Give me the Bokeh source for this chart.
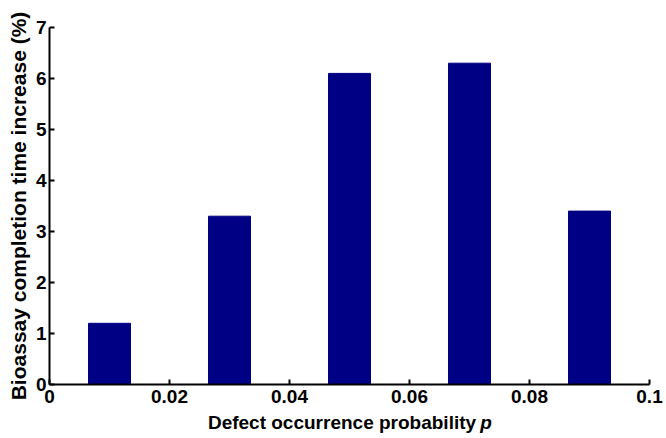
from bokeh.plotting import figure
from bokeh.layouts import column
from bokeh.models import Range1d, FixedTicker
from bokeh.core.properties import value
from bokeh.embed import file_html
from bokeh.resources import INLINE

p_values = [0.01, 0.03, 0.05, 0.07, 0.09]
increase = [1.2, 3.3, 6.1, 6.3, 3.4]
x_ticks = [0, 0.02, 0.04, 0.06, 0.08, 0.1]
x_tick_labels = ["0", "0.02", "0.04", "0.06", "0.08", "0.1"]
y_ticks = [0, 1, 2, 3, 4, 5, 6, 7]
x_title = "Defect occurrence probability"
x_title_var = "p"
y_title = "Bioassay completion time increase (%)"

FONT = "Liberation Sans"
xr = Range1d(0, 0.1)

p = figure(width=666, height=413, output_backend="svg", toolbar_location=None,
           x_range=xr, y_range=Range1d(0, 7),
           min_border_left=49, min_border_right=17, min_border_top=27, min_border_bottom=29)

p.vbar(x=p_values, top=increase, width=0.007, bottom=0, fill_color="#000085", line_color="#000085")

p.xgrid.visible = False
p.ygrid.visible = False
p.outline_line_color = None

for ax in (p.xaxis[0], p.yaxis[0]):
    ax.axis_line_width = 2
    ax.axis_line_color = "black"
    ax.major_tick_in = 5
    ax.major_tick_out = 0
    ax.major_tick_line_width = 2
    ax.minor_tick_line_color = None
    ax.major_label_text_font = FONT
    ax.major_label_text_font_style = "bold"
    ax.major_label_text_font_size = "19px"
    ax.major_label_text_color = "black"
    ax.axis_label_text_font = FONT
    ax.axis_label_text_font_style = "bold"
    ax.axis_label_text_color = "black"

p.xaxis.ticker = FixedTicker(ticks=x_ticks)
p.xaxis.major_label_overrides = {t: l for t, l in zip(x_ticks, x_tick_labels)}
p.yaxis.ticker = FixedTicker(ticks=y_ticks)
p.xaxis.major_label_standoff = 5
p.yaxis.major_label_standoff = 3
p.yaxis.axis_label = y_title
p.yaxis.axis_label_text_font_size = "21px"
p.yaxis.axis_label_standoff = 3

# x-axis title strip (allows the italic variable p)
t = figure(width=666, height=25, output_backend="svg", toolbar_location=None,
           x_range=xr, y_range=Range1d(0, 1), x_axis_type=None, y_axis_type=None,
           min_border_left=49, min_border_right=17, min_border_top=0, min_border_bottom=0)
t.xgrid.visible = False
t.ygrid.visible = False
t.outline_line_color = None
t.text(x=[0.0711], y=[0.64], text=[x_title], text_font=value(FONT), text_font_style="bold",
       text_font_size="19px", text_color="black", text_align="right", text_baseline="alphabetic")
t.text(x=[0.0718], y=[0.64], text=[x_title_var], text_font=value(FONT), text_font_style="bold italic",
       text_font_size="19px", text_color="black", text_align="left", text_baseline="alphabetic")

layout = column(p, t, spacing=0)
open("out.html", "w").write(file_html(layout, INLINE))
